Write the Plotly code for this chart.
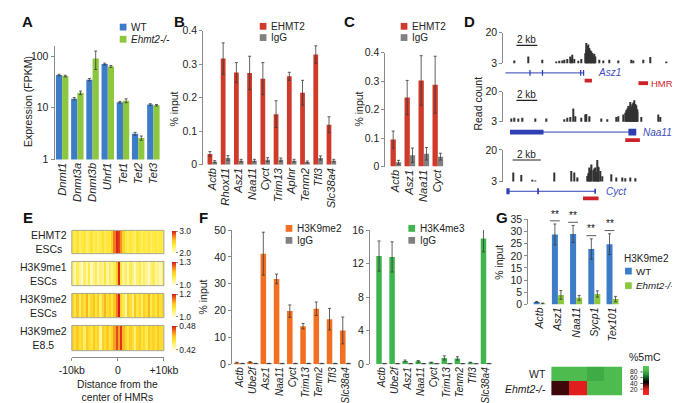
import plotly.graph_objects as go

W, H = 680, 403
FONT = "Liberation Sans, Arial, sans-serif"
TXT = "#222222"
AXC = "#8a8a8a"
ERRC = "#3a3a3a"

BLUE = "#3d7cc9"
LGREEN = "#8dc63f"
RED = "#cf3a2b"
GRAY = "#808080"
ORANGE = "#f36f21"
GREEN = "#3fb54e"

# ---------------- data ----------------
A_GENES = ["Dnmt1", "Dnmt3a", "Dnmt3b", "Uhrf1", "Tet1", "Tet2", "Tet3"]
A_WT = [43, 15, 35, 70, 12.8, 3.15, 11.6]
A_WT_ERR = [1.5, 0.8, 1.8, 3.0, 0.5, 0.2, 0.4]
A_KO = [41, 19.5, 90, 63, 13.7, 2.6, 11.2]
A_KO_ERR = [1.5, 1.5, 35, 2.5, 1.2, 0.25, 0.4]

B_GENES = ["Actb", "Rhox11", "Asz1", "Naa11", "Cyct", "Trim13", "Aplnr", "Tenm2", "Tfl3", "Slc38a4"]
B_EHMT2 = [0.032, 0.317, 0.275, 0.274, 0.257, 0.151, 0.264, 0.215, 0.329, 0.119]
B_EHMT2_ERR = [0.007, 0.047, 0.030, 0.050, 0.048, 0.040, 0.012, 0.037, 0.026, 0.024]
B_IGG = [0.009, 0.020, 0.012, 0.012, 0.015, 0.015, 0.012, 0.008, 0.020, 0.012]
B_IGG_ERR = [0.003, 0.007, 0.004, 0.004, 0.006, 0.005, 0.004, 0.003, 0.006, 0.004]

C_GENES = ["Actb", "Asz1", "Naa11", "Cyct"]
C_EHMT2 = [0.095, 0.243, 0.303, 0.288]
C_EHMT2_ERR = [0.030, 0.060, 0.087, 0.100]
C_IGG = [0.015, 0.040, 0.045, 0.035]
C_IGG_ERR = [0.007, 0.025, 0.022, 0.012]

# D: read-count tracks (position in kb, read count)
T1_KB = [1.10, 2.42, 3.70, 5.10, 5.40, 5.70, 5.90, 6.16, 6.47, 6.56, 6.65, 6.83, 7.23, 7.45, 7.85, 7.93, 8.00, 8.06, 8.12, 8.18,
         8.24, 8.32, 8.40, 8.48, 8.55, 8.62, 8.70, 8.78, 8.86, 9.20, 9.60, 10.20, 11.06, 12.30, 12.50, 13.45, 14.10, 15.66]
T1_VAL = [4.5, 6.8, 4.9, 3.9, 4.3, 4.5, 4.9, 5.3, 6.8, 5.6, 7.7, 5.3, 4.3, 5.3, 8.5, 10.6, 14.3, 12.6, 13.4, 11.0,
          11.5, 10.2, 9.6, 8.2, 8.7, 7.4, 8.3, 6.0, 6.8, 4.9, 4.5, 4.9, 4.5, 4.9, 4.5, 4.9, 6.4, 3.9]
T2_KB = [0.80, 1.10, 1.40, 1.87, 3.10, 4.17, 5.85, 6.16, 6.47, 6.70, 6.90, 7.50, 7.85, 8.00, 8.30, 9.38, 10.00, 10.80, 11.06, 11.50,
         11.70, 11.80, 11.90, 11.98, 12.06, 12.14, 12.22, 12.30, 12.37, 12.44, 12.52, 12.60, 12.68, 12.75, 12.82, 12.90, 13.20, 14.90, 15.05]
T2_VAL = [4.8, 5.2, 4.8, 5.2, 4.8, 4.8, 4.4, 5.2, 5.6, 10.5, 6.1, 5.2, 7.0, 7.4, 6.1, 4.8, 4.4, 5.6, 6.1, 7.0,
          8.0, 9.5, 10.5, 11.9, 10.0, 14.1, 12.0, 11.3, 12.8, 13.8, 11.5, 15.1, 13.0, 12.3, 10.0, 8.6, 5.6, 7.0, 5.6]
T3_KB = [0.73, 1.26, 2.05, 2.27, 3.62, 4.83, 5.00, 5.27, 5.97, 6.05, 6.12, 6.19, 6.26, 6.35, 6.42, 6.49, 6.56, 6.64, 6.70, 6.76,
         6.87, 6.98, 7.65, 7.98, 8.42, 8.64, 9.00, 9.37]
T3_VAL = [7.9, 6.5, 4.0, 3.6, 7.9, 8.6, 7.9, 5.2, 6.0, 7.5, 10.5, 9.0, 12.2, 9.0, 10.0, 10.5, 8.0, 14.5, 11.0, 10.5,
          8.7, 5.9, 6.9, 5.2, 5.2, 4.8, 5.2, 4.8]
TRACK_SPAN_KB = [16.0, 16.0, 11.8]
GENE_NAMES = ["Asz1", "Naa11", "Cyct"]
GENE_SPANS = [(0.2, 7.75), (0.64, 12.75), (0.3, 6.5)]
GENE_EXONS = [[(2.50, 2.62), (3.70, 3.82), (7.36, 7.48), (7.64, 7.76)],
              [(0.64, 3.86), (12.0, 12.75)],
              [(0.22, 0.45), (2.40, 2.52), (6.44, 6.56)]]
GENE_EXON_H = [[6, 6, 6, 6], [5, 7], [6, 6, 5]]
GENE_LABEL_KB = [8.9, 13.25, 7.1]
HMR = [(7.8, 8.5), (11.7, 13.1), (5.64, 6.74)]
SCALEBAR = [(1.26, 3.26), (1.26, 3.26), (0.66, 2.66)]

# E: heatmaps of signal around HMR centres (bins of 0.5 kb, -10..+10 kb)
E_BINS = [-9.75 + 0.5 * i for i in range(40)]
E_EHMT2 = [2.40, 2.35, 2.45, 2.30, 2.38, 2.42, 2.28, 2.36, 2.44, 2.33, 2.40, 2.30, 2.37, 2.45, 2.34, 2.41, 2.39, 2.55, 2.80, 3.00,
           2.95, 2.75, 2.52, 2.40, 2.33, 2.42, 2.36, 2.29, 2.44, 2.38, 2.31, 2.40, 2.35, 2.43, 2.30, 2.37, 2.41, 2.34, 2.39, 2.36]
E_K9ME1 = [1.08, 1.04, 1.10, 1.06, 1.02, 1.09, 1.05, 1.11, 1.03, 1.07, 1.10, 1.04, 1.08, 1.06, 1.12, 1.05, 1.09, 1.07, 1.10, 1.18,
           1.30, 1.12, 1.06, 1.09, 1.04, 1.10, 1.07, 1.03, 1.08, 1.11, 1.05, 1.09, 1.06, 1.02, 1.08, 1.10, 1.05, 1.07, 1.04, 1.09]
E_K9ME2 = [1.10, 1.08, 1.12, 1.06, 1.11, 1.09, 1.13, 1.07, 1.10, 1.12, 1.08, 1.11, 1.06, 1.10, 1.13, 1.09, 1.11, 1.08, 1.12, 1.16,
           1.22, 1.10, 1.07, 1.03, 1.11, 1.09, 1.05, 1.12, 1.08, 1.10, 1.06, 1.11, 1.09, 1.13, 1.07, 1.10, 1.08, 1.12, 1.09, 1.11]
E_K9ME2_E85 = [0.452, 0.448, 0.455, 0.446, 0.450, 0.438, 0.454, 0.449, 0.445, 0.456, 0.447, 0.451, 0.432, 0.453, 0.448, 0.455, 0.446, 0.452, 0.462, 0.475,
               0.462, 0.478, 0.458, 0.450, 0.444, 0.453, 0.447, 0.436, 0.451, 0.455, 0.445, 0.450, 0.441, 0.454, 0.448, 0.452, 0.446, 0.455, 0.449, 0.447]
E_ROWS = [("EHMT2", "ESCs"), ("H3K9me1", "ESCs"), ("H3K9me2", "ESCs"), ("H3K9me2", "E8.5")]
E_RANGES = [(2.0, 3.0), (1.0, 1.3), (1.0, 1.2), (0.42, 0.48)]
E_TICKTEXT = [("2.0", "3.0"), ("1.0", "1.3"), ("1.0", "1.2"), ("0.42", "0.48")]

F_GENES = ["Actb", "Ube2f", "Asz1", "Naa11", "Cyct", "Trim13", "Tenm2", "Tfl3", "Slc38a4"]
F_K9 = [0.6, 0.8, 41.2, 31.8, 19.8, 14.2, 20.7, 16.8, 12.6]
F_K9_ERR = [0.15, 0.2, 8.0, 1.8, 2.3, 1.0, 2.5, 4.0, 5.0]
F_K9_IGG = [0.3, 0.3, 0.3, 0.3, 0.3, 0.3, 0.3, 0.3, 0.3]
F_K9_IGG_ERR = [0.05, 0.05, 0.05, 0.05, 0.05, 0.05, 0.05, 0.05, 0.05]
F_K4 = [12.9, 12.8, 0.4, 0.35, 0.2, 0.75, 0.7, 0.2, 15.0]
F_K4_ERR = [1.8, 1.8, 0.1, 0.1, 0.05, 0.25, 0.2, 0.05, 1.6]
F_K4_IGG = [0.08, 0.06, 0.06, 0.06, 0.05, 0.07, 0.06, 0.05, 0.08]
F_K4_IGG_ERR = [0.02, 0.02, 0.02, 0.02, 0.02, 0.02, 0.02, 0.02, 0.02]

G_GENES = ["Actb", "Asz1", "Naa11", "Sycp1", "Tex101"]
G_WT = [1.0, 28.8, 29.0, 22.8, 24.8]
G_WT_ERR = [0.2, 4.3, 3.5, 4.2, 4.3]
G_KO = [0.4, 3.9, 2.7, 4.3, 2.2]
G_KO_ERR = [0.15, 1.8, 1.0, 1.3, 1.1]
G_SIG = ["", "**", "**", "**", "**"]
G_METH_ROWS = ["WT", "Ehmt2-/-"]
G_METH_COLS = ["Asz1", "Naa11", "Sycp1", "Tex101"]
G_METH = [[85, 85, 80, 85],
          [38, 18, 85, 85]]
G_METH_TICKS = [80, 60, 40, 20]

# ---------------- helpers ----------------
def X(p):
    return p / W


def Y(p):
    return 1 - p / H


def dx(a, b):
    return [a / W, b / W]


def dy(top, bottom):
    return [1 - bottom / H, 1 - top / H]


fig = go.Figure()
layout = {}
shapes = []
anns = []


def ann(text, x, y, size=10.5, xa="center", ya="middle", color=TXT, angle=0, xref="paper", yref="paper"):
    xx = X(x) if xref == "paper" else x
    yy = Y(y) if yref == "paper" else y
    anns.append(dict(text=text, x=xx, y=yy, xref=xref, yref=yref, xanchor=xa, yanchor=ya, showarrow=False,
                     textangle=angle, font=dict(family=FONT, size=size, color=color)))


def sq(x, y, color, s=7):
    shapes.append(dict(type="rect", xref="paper", yref="paper", x0=X(x), x1=X(x + s), y0=Y(y + s / 2), y1=Y(y - s / 2),
                       fillcolor=color, line=dict(width=0)))


def axname(i):
    return ("", "x", "y") if i == 1 else (str(i), "x%d" % i, "y%d" % i)


def pair(i, cats, v1, e1, c1, v2, e2, c2, w):
    _, xa, ya = axname(i)
    for vals, errs, col, off in ((v1, e1, c1, -w), (v2, e2, c2, 0.0)):
        fig.add_trace(go.Bar(x=cats, y=vals, width=w, offset=off, marker=dict(color=col, line=dict(width=0)),
                             error_y=dict(type="data", array=errs, visible=True, color=ERRC, thickness=0.8, width=1.5),
                             xaxis=xa, yaxis=ya, showlegend=False, hoverinfo="skip"))


def cat_x(i, dom, rng, size=11.2):
    s, xa, ya = axname(i)
    layout["xaxis" + s] = dict(domain=dom, range=rng, anchor=ya, type="category", showline=False, ticks="",
                               tickangle=-90, showgrid=False, zeroline=False,
                               tickfont=dict(family=FONT, size=size, color=TXT, style="italic"))


def val_y(i, dom, rng, **kw):
    s, xa, ya = axname(i)
    d = dict(domain=dom, range=rng, anchor=xa, showline=True, linecolor=AXC, linewidth=1, ticks="outside",
             ticklen=3, tickcolor=AXC, tickwidth=1, showgrid=False, zeroline=False,
             tickfont=dict(family=FONT, size=10.5, color=TXT))
    d.update(kw)
    layout["yaxis" + s] = d


# ---------------- A ----------------
pair(1, A_GENES, A_WT, A_WT_ERR, BLUE, A_KO, A_KO_ERR, LGREEN, 0.41)
cat_x(1, dx(35, 146), [-0.5, 6.5])
val_y(1, dy(32.7, 150), [0, 2.2], type="log", tickvals=[1, 10, 100], ticktext=["1", "10", "100"])
ann("Expression (FPKM)", 8, 90, angle=-90)
sq(103, 13.5, BLUE)
sq(103, 26, LGREEN)
ann("WT", 113, 13.5, size=10, xa="left")
ann("<i>Ehmt2-/-</i>", 113, 26, size=10, xa="left")

# ---------------- B ----------------
pair(2, B_GENES, B_EHMT2, B_EHMT2_ERR, RED, B_IGG, B_IGG_ERR, GRAY, 0.36)
cat_x(2, dx(190, 330.6), [-0.69, 9.5])
val_y(2, dy(17.3, 155.3), [0, 0.4], tickvals=[0, 0.1, 0.2, 0.3, 0.4], ticktext=["0", "0.1", "0.2", "0.3", "0.4"])
ann("% input", 160, 98, angle=-90)
sq(249, 12.7, RED)
sq(249, 24.3, GRAY)
ann("EHMT2", 259, 12.7, size=10, xa="left")
ann("IgG", 259, 24.3, size=10, xa="left")

# ---------------- C ----------------
pair(3, C_GENES, C_EHMT2, C_EHMT2_ERR, RED, C_IGG, C_IGG_ERR, GRAY, 0.38)
cat_x(3, dx(380, 442), [-0.75, 3.5])
val_y(3, dy(40, 157.3), [0, 0.4], tickvals=[0, 0.1, 0.2, 0.3, 0.4], ticktext=["0", "0.1", "0.2", "0.3", "0.4"])
ann("% input", 353, 98, angle=-90)
sq(396, 12.7, RED)
sq(396, 24.3, GRAY)
ann("EHMT2", 406, 12.7, size=10, xa="left")
ann("IgG", 406, 24.3, size=10, xa="left")

# ---------------- D ----------------
TRACKS = [(T1_KB, T1_VAL), (T2_KB, T2_VAL), (T3_KB, T3_VAL)]
TRACK_Y = [(19.3, 50.7), (80, 111), (140, 172.7)]
GENE_Y = [60.7, 121.7, 182.7]
HMR_Y = [68.7, 130, 190]
SCALE_Y = [32.3, 89, 150.5]
GENE_BLUE = "#2f3fb3"
for k in range(3):
    i = 4 + k
    s, xa, ya = axname(i)
    kb, vals = TRACKS[k]
    fig.add_trace(go.Bar(x=kb, y=vals, width=0.11 if k < 2 else 0.085, marker=dict(color="#333333", line=dict(width=0)),
                         xaxis=xa, yaxis=ya, showlegend=False, hoverinfo="skip"))
    layout["xaxis" + s] = dict(domain=dx(503, 677), range=[0, TRACK_SPAN_KB[k]], anchor=ya, visible=False)
    val_y(i, dy(*TRACK_Y[k]), [3, 20], tickvals=[3, 20], ticktext=["3", "20"])
    sb0, sb1 = SCALEBAR[k]
    shapes.append(dict(type="line", xref=xa, yref="paper", x0=sb0, x1=sb1, y0=Y(SCALE_Y[k]), y1=Y(SCALE_Y[k]),
                       line=dict(color="#222", width=1.2)))
    ann("2 kb", (sb0 + sb1) / 2, SCALE_Y[k] - 6, size=10, xref=xa)
    g0, g1 = GENE_SPANS[k]
    gy = GENE_Y[k]
    shapes.append(dict(type="line", xref=xa, yref="paper", x0=g0, x1=g1, y0=Y(gy), y1=Y(gy),
                       line=dict(color=GENE_BLUE, width=1)))
    for (e0, e1), eh in zip(GENE_EXONS[k], GENE_EXON_H[k]):
        shapes.append(dict(type="rect", xref=xa, yref="paper", x0=e0, x1=e1, y0=Y(gy + eh / 2), y1=Y(gy - eh / 2),
                           fillcolor=GENE_BLUE, line=dict(width=0)))
    ann("<i>%s</i>" % GENE_NAMES[k], GENE_LABEL_KB[k], gy, size=10, xa="left", color="#3b4cc0", xref=xa)
    h0, h1 = HMR[k]
    shapes.append(dict(type="rect", xref=xa, yref="paper", x0=h0, x1=h1, y0=Y(HMR_Y[k] + 2), y1=Y(HMR_Y[k] - 2),
                       fillcolor="#cc2229", line=dict(width=0)))
shapes.append(dict(type="rect", xref="paper", yref="paper", x0=X(644), x1=X(654), y0=Y(73.3), y1=Y(69.3),
                   fillcolor="#cc2229", line=dict(width=0)))
ann("HMR", 654.5, 71.3, size=9.5, xa="left", color="#cc2229")
ann("Read count", 477, 92, angle=-90)

# ---------------- E ----------------
E_SCALE = [[0, "#fffff2"], [0.2, "#fff59a"], [0.4, "#ffe93a"], [0.6, "#fdc623"], [0.8, "#f4731f"], [1, "#d7191c"]]
E_DATA = [E_EHMT2, E_K9ME1, E_K9ME2, E_K9ME2_E85]
E_Y = [(223, 247), (255, 280), (288, 313), (321, 347)]
for k in range(4):
    i = 7 + k
    s, xa, ya = axname(i)
    ca = "coloraxis" + ("" if k == 0 else str(k + 1))
    fig.add_trace(go.Heatmap(z=[E_DATA[k]], x=E_BINS, y=[0], coloraxis=ca, xaxis=xa, yaxis=ya, hoverinfo="skip"))
    lo, hi = E_RANGES[k]
    pad = (hi - lo) * 0.03
    top, bot = E_Y[k]
    layout[ca] = dict(colorscale=E_SCALE, cmin=lo - pad, cmax=hi + pad,
                      colorbar=dict(x=X(157), xanchor="left", y=Y((top + bot) / 2), yanchor="middle",
                                    len=(bot - top) / H, lenmode="fraction", thickness=4, thicknessmode="pixels",
                                    xpad=0, ypad=0, outlinewidth=0, tickvals=[lo, hi], ticktext=list(E_TICKTEXT[k]),
                                    ticks="outside", ticklen=2, tickcolor=AXC,
                                    tickfont=dict(family=FONT, size=8.5, color=TXT)))
    if k < 3:
        layout["xaxis" + s] = dict(domain=dx(53, 149), range=[-10, 10], anchor=ya, visible=False)
    else:
        layout["xaxis" + s] = dict(domain=dx(53, 149), range=[-10, 10], anchor="free", position=Y(354),
                                   showline=True, linecolor=AXC, ticks="outside", ticklen=3, tickcolor=AXC,
                                   tickvals=[-10, 0, 10], ticktext=["-10kb", "0", "+10kb"], showgrid=False,
                                   zeroline=False, tickfont=dict(family=FONT, size=10.5, color=TXT))
    layout["yaxis" + s] = dict(domain=dy(top, bot), anchor=xa, visible=False, range=[-0.5, 0.5])
    shapes.append(dict(type="rect", xref=xa + " domain", yref=ya + " domain", x0=0, x1=1, y0=0, y1=1,
                       line=dict(color="#a5a58a", width=1)))
    ann(E_ROWS[k][0] + "<br>" + E_ROWS[k][1], 50, (top + bot) / 2, size=10.5, xa="right")
ann("Distance from the<br>center of HMRs", 101, 389, size=10.3)

# ---------------- F ----------------
pair(11, F_GENES, F_K9, F_K9_ERR, ORANGE, F_K9_IGG, F_K9_IGG_ERR, GRAY, 0.42)
cat_x(11, dx(220, 345.4), [-0.58, 8.5], size=10)
val_y(11, dy(222.7, 361), [0, 50], tickvals=[0, 10, 20, 30, 40, 50])
ann("% input", 190, 292, angle=-90)
sq(276, 221, ORANGE)
sq(276, 233.3, GRAY)
ann("H3K9me2", 286, 221, size=10, xa="left")
ann("IgG", 286, 233.3, size=10, xa="left")

pair(12, F_GENES, F_K4, F_K4_ERR, GREEN, F_K4_IGG, F_K4_IGG_ERR, GRAY, 0.42)
cat_x(12, dx(364, 492), [-0.9, 8.5], size=10)
val_y(12, dy(222.7, 361), [0, 16], tickvals=[0, 4, 8, 12, 16])
sq(404, 221, GREEN)
sq(404, 233.3, GRAY)
ann("H3K4me3", 414, 221, size=10, xa="left")
ann("IgG", 414, 233.3, size=10, xa="left")

# ---------------- G ----------------
G_BAR_W = 0.33
pair(13, G_GENES, G_WT, G_WT_ERR, BLUE, G_KO, G_KO_ERR, LGREEN, G_BAR_W)
cat_x(13, dx(529, 627), [-0.63, 4.53], size=10.5)
val_y(13, dy(211.7, 299.3), [0, 35], tickvals=[0, 5, 10, 15, 20, 25, 30, 35])
ann("% input", 499, 256, angle=-90)
for j, g in enumerate(G_GENES):
    if G_SIG[j]:
        top = G_WT[j] + G_WT_ERR[j]
        cx = j - G_BAR_W / 2
        shapes.append(dict(type="line", xref="x13", yref="y13", x0=cx - 0.27, x1=cx + 0.27, y0=top + 1.3, y1=top + 1.3,
                           line=dict(color="#333", width=0.8)))
        anns.append(dict(text=G_SIG[j], x=cx, y=top + 1.0, xref="x13", yref="y13", xanchor="center", yanchor="bottom",
                         showarrow=False, font=dict(family=FONT, size=10, color="#111111")))
ann("H3K9me2", 627, 252, size=10, xa="left")
sq(630, 265, BLUE)
sq(630, 280, LGREEN)
ann("WT", 639.5, 265, size=9.8, xa="left")
ann("<i>Ehmt2-/-</i>", 639.5, 280, size=9.8, xa="left")

G_SCALE = [[0, "#ff2424"], [0.2, "#de1d1d"], [0.45, "#000000"], [0.7, "#208f36"], [0.85, "#4dbb4d"], [1, "#5cc95c"]]
fig.add_trace(go.Heatmap(z=G_METH, x=G_METH_COLS, y=G_METH_ROWS, coloraxis="coloraxis5", xaxis="x14", yaxis="y14",
                         hoverinfo="skip", xgap=0, ygap=0))
CB_TOP, CB_BOT = 363.0, 392.6
layout["coloraxis5"] = dict(colorscale=G_SCALE, cmin=0, cmax=100,
                            colorbar=dict(x=X(649), xanchor="left", y=Y((CB_TOP + CB_BOT) / 2), yanchor="middle",
                                          len=(CB_BOT - CB_TOP) / H, lenmode="fraction", thickness=6,
                                          thicknessmode="pixels", xpad=0, ypad=0, outlinewidth=0,
                                          showticklabels=False, ticks=""))
for v in G_METH_TICKS:
    yy = CB_BOT - (v / 100.0) * (CB_BOT - CB_TOP)
    ann(str(v), 645.5, yy, size=6.8, xa="right")
    shapes.append(dict(type="line", xref="paper", yref="paper", x0=X(646), x1=X(648.5), y0=Y(yy), y1=Y(yy),
                       line=dict(color="#444", width=0.8)))
ann("%5mC", 651, 354, size=10.5)
layout["xaxis14"] = dict(domain=dx(553, 627), anchor="y14", visible=False)
layout["yaxis14"] = dict(domain=dy(363.3, 393.3), anchor="x14", visible=False, autorange="reversed")
ann("WT", 550, 371, size=10.5, xa="right")
ann("<i>Ehmt2-/-</i>", 550, 386, size=10.5, xa="right")

# ---------------- panel letters ----------------
for L, lx, ly in (("A", 7, 8), ("B", 165, 8), ("C", 343, 8), ("D", 468, 8), ("E", 7, 210), ("F", 190, 210), ("G", 502, 210)):
    anns.append(dict(text="<b>%s</b>" % L, x=X(lx), y=Y(ly), xref="paper", yref="paper", xanchor="center",
                     yanchor="middle", showarrow=False, font=dict(family=FONT, size=15, color="#111")))

fig.update_layout(width=W, height=H, margin=dict(l=0, r=0, t=0, b=0), paper_bgcolor="white", plot_bgcolor="white",
                  barmode="overlay", showlegend=False, font=dict(family=FONT, color=TXT),
                  shapes=shapes, annotations=anns, **layout)
fig.write_html("out.html")
